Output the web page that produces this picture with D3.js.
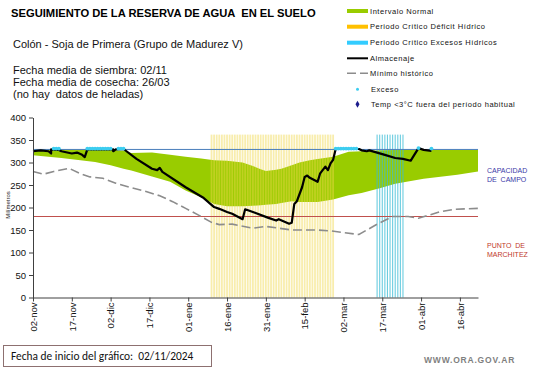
<!DOCTYPE html>
<html><head><meta charset="utf-8">
<script src="https://cdn.jsdelivr.net/npm/d3@7"></script>
<style>body{margin:0;background:#fff} svg{display:block} text{font-family:"Liberation Sans",Arial,sans-serif}</style>
</head><body>
<svg id="c" width="541" height="368"></svg>
<script>
// ---------- DATA ----------
const startDate = new Date(Date.UTC(2024, 10, 2));
const endDay = 172;
const tickDays = [0,15,30,45,60,75,90,105,120,135,150,165];
const tickLabels = ["02-nov","17-nov","02-dic","17-dic","01-ene","16-ene","31-ene","15-feb","02-mar","17-mar","01-abr","16-abr"];
const yTicks = [0,50,100,150,200,250,300,350,400];

const capacidadCampo = 329;
const puntoMarchitez = 180;

const bandDays  = [0,11,24,30,35,38,46,53,59,65,70,75,81,85,88,90,94,96,100,103,107,110,116,122,127,134,140,151,164,172];
const bandUpper = [329,329,328,328,326,321,322,317,313,309,305,304,300,292,285,281,284,286,294,300,305,308,313,324,325,327,328,328,328,328];
const bandLower = [316,310,301,294,286,282,269,257,238,223,208,203,203,204,205,206,208,210,214,212,212,212,218,227,232,243,253,264,273,280];

const almDays   = [0,3,6,7,7.5,10.5,11,15,17,19,20.5,21,31,31.5,32.5,35,40,46.5,48,49,50,59,66,70,72,75,77,81,82,85,91.5,94,95,99,100,101,102.5,104,105,106,107,110,111.5,113,114,115,116.5,117.5,126,127,129,130,136.5,140,143,146,149,151,154];
const almValues = [325,327,325,320,329,328,325,320,322,317,312,329,329,325,329,330,308,286,283,288,279,245,221,201,197,190,186,174,196,190,177,171,174,164,166,208,214,245,268,271,266,257,276,291,283,298,306,330,330,327,325,327,317,310,308,304,332,328,326];

const minDays   = [0,4,8,14,18,22,27,32,38.6,44,49,54,59,64.5,69.5,72,77,85,90,95,100.5,110,115,126,133,139,145.5,149.5,157,163.5,172];
const minValues = [280,274,280,287,276,268,265,254,244,235,226,213,198,183,167,162,163,154,158,154,150,150,148,140,163,180,180,176,190,196,198];

const excesoDays   = [8,9,10,21,22,23,24,25,26,27,28,29,30,33,34,35,117,118,119,120,121,122,123,124,125,149,154];
const excesoValues = [331,331,331,331,331,331,331,331,331,331,331,331,331,331,331,331,331,331,331,331,331,331,331,331,331,332,331];

const deficitStart = 69, deficitEnd = 116;   // Periodo crítico déficit hídrico
const excesosStart = 133, excesosEnd = 143;  // Periodo crítico excesos hídricos
const periodValue = 362;

// ---------- SCALES ----------
const svg = d3.select("#c");
const dd = d => d3.utcDay.offset(startDate, d);
const x = d3.scaleUtc().domain([startDate, dd(endDay)]).range([33, 478]);
const y = d3.scaleLinear().domain([0, 400]).range([297.5, 117.5]);

// ---------- GREEN BAND ----------
const band = bandDays.map((d,i)=>({d, hi:bandUpper[i], lo:bandLower[i]}));
svg.append("path").datum(band)
  .attr("d", d3.area().x(p=>x(dd(p.d))).y0(p=>y(p.lo)).y1(p=>y(p.hi)))
  .attr("fill", "#99cc00");

// ---------- PERIOD STRIPES ----------
const defDays = d3.range(deficitStart, deficitEnd + 1);
svg.append("g").selectAll("rect").data(defDays).join("rect")
  .attr("x", d => x(dd(d)) - 0.9).attr("width", 1.8)
  .attr("y", y(periodValue)).attr("height", y(0) - y(periodValue))
  .attr("fill", "#f0d64a").attr("opacity", 0.45);
const excDays = d3.range(excesosStart, excesosEnd + 1);
svg.append("g").selectAll("rect").data(excDays).join("rect")
  .attr("x", d => x(dd(d)) - 0.55).attr("width", 1.1)
  .attr("y", y(periodValue)).attr("height", y(0) - y(periodValue))
  .attr("fill", "#3bbcd6").attr("opacity", 0.75);

// ---------- REFERENCE LINES ----------
svg.append("line").attr("x1", x(dd(0))).attr("x2", x(dd(endDay)))
  .attr("y1", y(capacidadCampo)).attr("y2", y(capacidadCampo))
  .attr("stroke", "#4a7ebb").attr("stroke-width", 1);
svg.append("line").attr("x1", x(dd(0))).attr("x2", x(dd(endDay)))
  .attr("y1", y(puntoMarchitez)).attr("y2", y(puntoMarchitez))
  .attr("stroke", "#c0504d").attr("stroke-width", 1);

// ---------- MINIMO HISTORICO ----------
svg.append("path").datum(minDays.map((d,i)=>[d, minValues[i]]))
  .attr("d", d3.line().x(p=>x(dd(p[0]))).y(p=>y(p[1])))
  .attr("fill", "none").attr("stroke", "#8c8c8c").attr("stroke-width", 1.6)
  .attr("stroke-dasharray", "9,4");

// ---------- ALMACENAJE ----------
svg.append("path").datum(almDays.map((d,i)=>[d, almValues[i]]))
  .attr("d", d3.line().x(p=>x(dd(p[0]))).y(p=>y(p[1])))
  .attr("fill", "none").attr("stroke", "#000").attr("stroke-width", 2.2)
  .attr("stroke-linejoin", "round");

// ---------- EXCESO ----------
svg.append("g").selectAll("circle").data(excesoDays).join("circle")
  .attr("cx", (d,i) => x(dd(d))).attr("cy", (d,i) => y(excesoValues[i]))
  .attr("r", 1.9).attr("fill", "#3ccdf0");

// ---------- AXES ----------
const gy = svg.append("g").attr("transform", "translate(33,0)")
  .call(d3.axisLeft(y).tickValues(yTicks).tickSize(4).tickSizeOuter(0).tickPadding(3));
gy.selectAll("text").attr("font-size", "9.5px").attr("fill", "#111").style("font-family","Liberation Sans, Arial");
gy.selectAll("line,path").attr("stroke", "#404040");

const gx = svg.append("g").attr("transform", `translate(0,${y(0)})`)
  .call(d3.axisBottom(x).tickValues(tickDays.map(dd)).tickFormat((d,i)=>tickLabels[i]).tickSize(4).tickSizeOuter(0));
gx.selectAll("line,path").attr("stroke", "#404040");
gx.selectAll("text").attr("transform", "rotate(-90)").attr("x", -5).attr("y", 0).attr("dy", "0.35em")
  .style("text-anchor", "end").attr("font-size", "9.5px").attr("fill", "#111").style("font-family","Liberation Sans, Arial");

svg.append("text").attr("transform", "translate(10,205) rotate(-90)").attr("text-anchor", "middle")
  .attr("font-size", "6px").attr("fill", "#222").text("Milímetros");

// ---------- TEXTS ----------
svg.append("text").attr("x", 11).attr("y", 17).attr("font-size", "11.2px").attr("font-weight", "bold")
  .style("white-space","pre").text("SEGUIMIENTO DE LA RESERVA DE AGUA  EN EL SUELO");
svg.append("text").attr("x", 13).attr("y", 48).attr("font-size", "11px").attr("fill","#111")
  .text("Colón - Soja de Primera (Grupo de Madurez V)");
["Fecha media de siembra: 02/11","Fecha media de cosecha: 26/03","(no hay  datos de heladas)"].forEach((t,i)=>{
  svg.append("text").attr("x", 13).attr("y", 74 + i*12.2).attr("font-size", "11px").attr("fill","#111")
    .style("white-space","pre").text(t);
});

svg.append("text").attr("x", 487).attr("y", 172.5).attr("font-size","7px").attr("fill","#3a3aa8").text("CAPACIDAD");
svg.append("text").attr("x", 487).attr("y", 181.7).attr("font-size","7px").attr("fill","#3a3aa8").style("white-space","pre").text("DE  CAMPO");
svg.append("text").attr("x", 487).attr("y", 248.3).attr("font-size","7px").attr("fill","#c0392b").style("white-space","pre").text("PUNTO  DE");
svg.append("text").attr("x", 487).attr("y", 256.7).attr("font-size","7px").attr("fill","#c0392b").text("MARCHITEZ");

// ---------- LEGEND ----------
const lg = svg.append("g");
const lx0 = 347, lx1 = 368, ltx = 370;
const rowsY = [11, 26.7, 42.7, 58.3, 73.3, 89.3, 104.3];
lg.append("rect").attr("x", lx0).attr("y", rowsY[0]-2).attr("width", lx1-lx0).attr("height", 4).attr("fill", "#99cc00");
lg.append("rect").attr("x", lx0).attr("y", rowsY[1]-2).attr("width", lx1-lx0).attr("height", 4).attr("fill", "#ffc000");
lg.append("rect").attr("x", lx0).attr("y", rowsY[2]-2).attr("width", lx1-lx0).attr("height", 4).attr("fill", "#33ccff");
lg.append("line").attr("x1", lx0).attr("x2", lx1).attr("y1", rowsY[3]).attr("y2", rowsY[3]).attr("stroke", "#000").attr("stroke-width", 2);
lg.append("line").attr("x1", lx0).attr("x2", lx1).attr("y1", rowsY[4]).attr("y2", rowsY[4]).attr("stroke", "#8c8c8c").attr("stroke-width", 1.6).attr("stroke-dasharray","9,4");
lg.append("circle").attr("cx", 357.5).attr("cy", rowsY[5]).attr("r", 1.5).attr("fill", "#3ccdf0");
lg.append("path").attr("d", d3.symbol().type(d3.symbolDiamond).size(14)).attr("transform", `translate(357.5,${rowsY[6]})`).attr("fill", "#1c1c8c");
const legTexts = ["Intervalo Normal","Periodo Crítico Déficit Hídrico","Periodo Crítico Excesos Hídricos","Almacenaje","Mínimo histórico","Exceso","Temp <3°C fuera del período habitual"];
legTexts.forEach((t,i)=>{
  lg.append("text").attr("x", i>=5 ? 371 : ltx).attr("y", rowsY[i] + 2.6).attr("font-size", "7.5px")
    .attr("letter-spacing", "0.55px").attr("fill", "#111").text(t);
});

// ---------- FOOTER ----------
svg.append("rect").attr("x", 3.5).attr("y", 345.5).attr("width", 208).attr("height", 21)
  .attr("fill", "#fff").attr("stroke", "#8d7070").attr("stroke-width", 1);
svg.append("text").attr("x", 11).attr("y", 359.5).attr("font-size", "11.4px").attr("fill", "#111")
  .style("font-family", "Carlito, Lato, sans-serif").style("white-space","pre").text("Fecha de inicio del gráfico:  02/11/2024");
svg.append("text").attr("x", 424).attr("y", 362.7).attr("font-size", "8.5px").attr("font-weight", "bold")
  .attr("letter-spacing", "0.8px").attr("fill", "#7f7f7f").text("WWW.ORA.GOV.AR");
</script>
</body></html>
